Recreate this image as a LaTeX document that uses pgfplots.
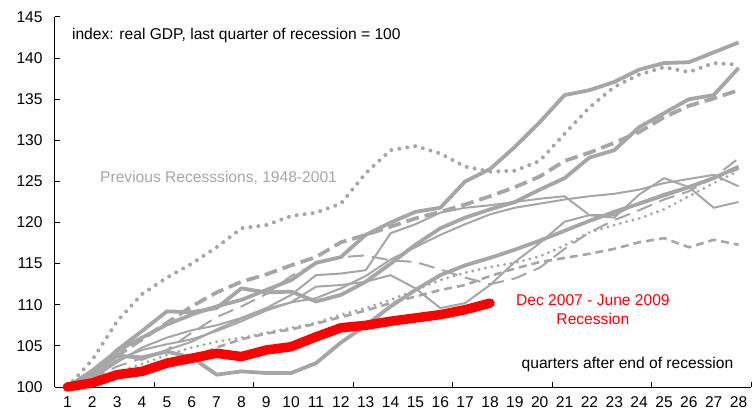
\documentclass[border=0pt]{standalone}
\usepackage{fontspec}
\setmainfont{Liberation Sans}
\usepackage{pgfplots}
\pgfplotsset{compat=1.18}
\usepackage{pgfplotstable}
\definecolor{lg}{RGB}{166,166,166}

\pgfplotstableread{
k A B C D E F G H J K L
1 100 100 100 100 100 100 100 100 100 100 100
2 102 103.3 101.5 101.8 101 101.5 101 101.2 101.5 100.8 100.8
3 104.4 108 104.5 103.8 102.5 103.8 103 103.3 103.9 101.8 101.5
4 106 111.3 106.8 105.8 103.5 103.6 104.8 104.5 103.3 102.8 102
5 107.6 113.3 109.2 107.8 104.5 104.3 106 105.2 104.5 103.9 102.5
6 108.8 115 109.1 109.8 106.6 103.6 106.9 105.8 105.5 104.8 103.5
7 109.8 117 109.6 111.5 108.5 101.5 107.5 106.8 107 105.5 104.8
8 110.6 119.3 112 112.8 109.8 101.9 108.4 108 108.3 106 105.8
9 111.8 119.7 111.5 113.7 111.3 101.7 109.6 109.3 109.5 106.6 106.5
10 113 120.8 111.6 114.8 113.5 101.7 111.2 110.3 110.3 107.2 107
11 115.1 121.2 110.4 115.8 115 102.9 113.6 112.2 110.8 107.8 107.7
12 115.8 122.3 111.2 117.6 115.8 105.4 113.8 112.4 112 108.8 108.5
13 118.5 126 112.8 118.5 116 107.5 114.2 112.8 113.5 109.6 109.3
14 120 128.8 115 119.5 115.4 109.8 118.7 113.6 115.5 110.6 110.2
15 121.3 129.3 117.3 120.5 115.2 111.8 119.8 112 117 111.8 111
16 121.8 128.4 119.3 121.3 114.3 113.6 121.2 109.6 118.5 113 111.8
17 125 126.8 120.6 122.2 113.3 114.8 121.8 110.2 119.8 113.9 112.4
18 126.5 126.2 121.6 123.2 112.5 115.7 122.1 112.4 121 114.6 113.5
19 129.2 126.3 122.5 124.3 113.2 116.7 122.5 115.2 121.8 115.1 114.4
20 132.2 127.5 124 125.6 114.5 117.8 122.9 117.5 122.3 115.9 115.2
21 135.5 130.8 125.4 127.5 116.8 119 123.2 120.1 122.8 117.2 115.7
22 136.1 134 127.9 128.5 118.8 120.2 120.9 120.9 123.2 118.8 116.2
23 137.1 136.5 128.8 129.7 120.3 121.3 120.6 120.9 123.5 119.7 116.8
24 138.6 138 131.6 131 121.5 122.3 123.4 122.4 124 120.5 117.6
25 139.4 138.9 133.3 132.8 122.8 123.3 125.4 123.5 124.8 121.6 118.1
26 139.5 138.3 135 134.2 123.8 124.3 124.3 124.4 125.3 123.2 117
27 140.7 139.4 135.5 135.1 125.5 125.4 121.8 125.5 125.8 124.8 117.9
28 141.9 139.2 138.8 136.1 127.8 126.8 122.5 126.5 124.4 126.3 117.3
}\prev

\pgfplotstableread{
k v
1 100
2 100.5
3 101.5
4 101.9
5 102.9
6 103.5
7 104.1
8 103.7
9 104.5
10 104.9
11 106.1
12 107.2
13 107.5
14 108
15 108.4
16 108.8
17 109.4
18 110.2
}\cur

\begin{document}
\fontsize{15.6bp}{19bp}\selectfont
\begin{tikzpicture}
\begin{axis}[name=ax, scale only axis, width=696bp, height=370bp,
  xmin=0.5, xmax=28.5, ymin=100, ymax=145, clip=false,
  axis x line*=bottom, axis y line*=left,
  axis line style={line width=1bp, black, -},
  xtick={1,...,28}, ytick={100,105,...,145},
  minor xtick={0.5,4.5,...,28.5}, minor ytick={100,105,...,145},
  major tick length=0pt, minor tick length=5bp, tick align=inside,
  minor tick style={line width=1bp, black},
  /pgf/number format/assume math mode=true,
  ticklabel style={font=\fontsize{15.6bp}{19bp}\selectfont, black},
  yticklabel style={xshift=-7bp},
  xticklabel style={yshift=-4bp},
]
\addplot[lg, line width=2bp, line join=round] table[x=k,y=H]{\prev};
\addplot[lg, line width=2bp, line join=round] table[x=k,y=G]{\prev};
\addplot[lg, line width=2bp, line join=round] table[x=k,y=J]{\prev};
\addplot[lg, line width=2bp, dash pattern=on 16bp off 8bp] table[x=k,y=E]{\prev};
\addplot[lg, line width=2.6bp, dash pattern=on 8bp off 5bp] table[x=k,y=L]{\prev};
\addplot[lg, line width=3.2bp, line cap=round, dash pattern=on 0bp off 6.5bp] table[x=k,y=K]{\prev};
\addplot[lg, line width=4bp, line cap=round, dash pattern=on 0bp off 8bp] table[x=k,y=B]{\prev};
\addplot[lg, line width=3.8bp, dash pattern=on 13bp off 6bp] table[x=k,y=D]{\prev};
\addplot[lg, line width=3.8bp, line join=round] table[x=k,y=F]{\prev};
\addplot[lg, line width=3.8bp, line join=round] table[x=k,y=C]{\prev};
\addplot[lg, line width=3.8bp, line join=round] table[x=k,y=A]{\prev};
\addplot[red, line width=9.5bp, line cap=round, line join=round] table[x=k,y=v]{\cur};
\node[anchor=west, inner sep=0pt, black] at (axis cs:1.18,142.8) {index: real GDP, last quarter of recession = 100};
\node[anchor=west, inner sep=0pt, text=lg] at (axis cs:2.31,125.42) {Previous Recesssions, 1948-2001};
\node[align=center, inner sep=0pt, text=red] at (axis cs:22.14,109.43) {Dec 2007 - June 2009\\Recession};
\node[inner sep=0pt, black] at (axis cs:23.53,102.8) {quarters after end of recession};
\end{axis}
\pgfresetboundingbox
\path[use as bounding box] (ax.south west) ++(-55bp,-30bp) rectangle ++(755bp,417bp);
\end{tikzpicture}
\end{document}
